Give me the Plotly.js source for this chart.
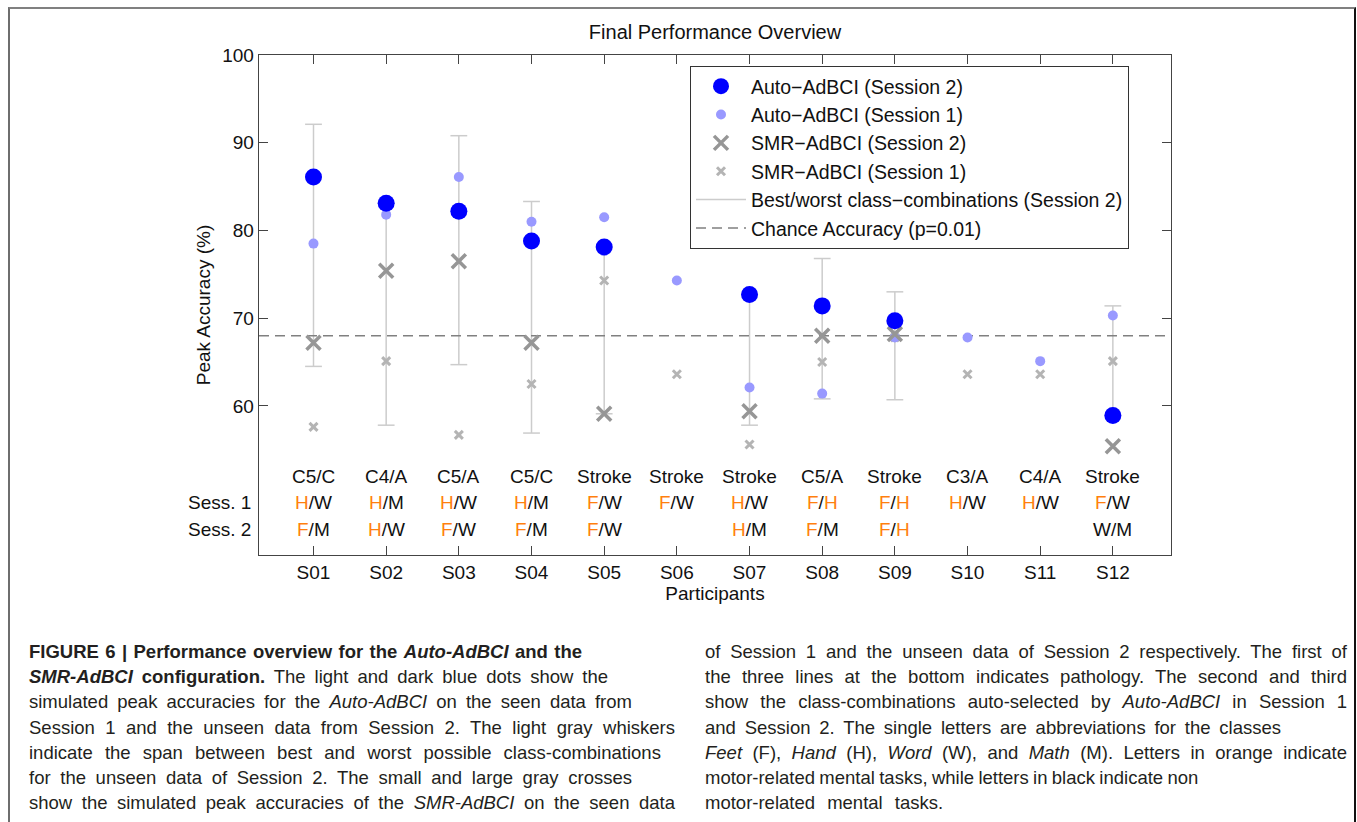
<!DOCTYPE html>
<html>
<head>
<meta charset="utf-8">
<script src="https://cdn.plot.ly/plotly-3.0.1.min.js"></script>
<style>
  html, body { margin: 0; padding: 0; background: #fff; }
  #wrap { position: relative; width: 1357px; height: 822px; overflow: hidden; }
  #chart { position: absolute; left: 0; top: 0; width: 1357px; height: 822px; }
  #frame { position: absolute; left: 8px; top: 7px; width: 1344px; height: 900px;
           border-left: 2px solid #6e6e6e; border-top: 2px solid #808080; border-right: 2px solid #111;
           pointer-events: none; }
  .cap { position: absolute; font-family: "Liberation Sans", Arial, Helvetica, sans-serif;
         font-size: 18.5px; line-height: 25.2px; color: #231f20; }
  .cap span.ln { display: block; white-space: nowrap; }
</style>
</head>
<body>
<div id="wrap">
  <div id="chart"></div>
  <div id="frame"></div>
  <div class="cap" id="capL" style="left:29px; top:639px;">
    <span class="ln" data-w="553"><b>FIGURE 6 | Performance overview for the <i>Auto-AdBCI</i> and the</b></span>
    <span class="ln" data-w="579"><b><i>SMR-AdBCI</i> configuration.</b> The light and dark blue dots show the</span>
    <span class="ln" data-w="603">simulated peak accuracies for the <i>Auto-AdBCI</i> on the seen data from</span>
    <span class="ln" data-w="646">Session 1 and the unseen data from Session 2. The light gray whiskers</span>
    <span class="ln" data-w="641">indicate the span between best and worst possible class-combinations</span>
    <span class="ln" data-w="603">for the unseen data of Session 2. The small and large gray crosses</span>
    <span class="ln" data-w="646">show the simulated peak accuracies of the <i>SMR-AdBCI</i> on the seen data</span>
  </div>
  <div class="cap" id="capR" style="left:705px; top:639px;">
    <span class="ln" data-w="642">of Session 1 and the unseen data of Session 2 respectively. The first of</span>
    <span class="ln" data-w="642">the three lines at the bottom indicates pathology. The second and third</span>
    <span class="ln" data-w="643">show the class-combinations auto-selected by <i>Auto-AdBCI</i> in Session 1</span>
    <span class="ln" data-w="576">and Session 2. The single letters are abbreviations for the classes</span>
    <span class="ln" data-w="642"><i>Feet</i> (F), <i>Hand</i> (H), <i>Word</i> (W), and <i>Math</i> (M). Letters in orange indicate</span>
    <span class="ln" data-w="492">motor-related mental tasks, while letters in black indicate non</span>
    <span class="ln" data-w="240">motor-related mental tasks.</span>
  </div>
</div>
<script>
// ---------- data ----------
const participants = ['S01','S02','S03','S04','S05','S06','S07','S08','S09','S10','S11','S12'];
const pathology = ['C5/C','C4/A','C5/A','C5/C','Stroke','Stroke','Stroke','C5/A','Stroke','C3/A','C4/A','Stroke'];
const classesSess1 = ['H/W','H/M','H/W','H/M','F/W','F/W','H/W','F/H','F/H','H/W','H/W','F/W'];
const classesSess2 = ['F/M','H/W','F/W','F/M','F/W','','H/M','F/M','F/H','','','W/M'];

const autoSess2 = [86.1, 83.1, 82.2, 78.8, 78.1, null, 72.7, 71.4, 69.7, null, null, 58.9];
const autoSess1 = [78.5, 81.8, 86.1, 81.0, 81.5, 74.3, 62.1, 61.4, 67.8, 67.8, 65.1, 70.3];
const smrSess2  = [67.2, 75.4, 76.5, 67.2, 59.1, null, 59.4, 68.0, 68.2, null, null, 55.4];
const smrSess1  = [57.6, 65.1, 56.7, 62.5, 74.3, 63.6, 55.6, 65.0, 67.8, 63.6, 63.6, 65.1];
const bestComb  = [92.1, 83.1, 90.8, 83.3, 78.1, null, 72.7, 76.8, 73.0, null, null, 71.4];
const worstComb = [64.5, 57.8, 64.7, 56.9, 59.1, null, 57.8, 60.8, 60.7, null, null, 58.9];
const chanceAccuracy = 68.0;
const yTicks = [60, 70, 80, 90, 100];

// ---------- build ----------
const xs = participants.map((_, i) => i + 1);
const xRange = [0.25, 12.8];
const FONT = '"Liberation Sans", Arial, Helvetica, sans-serif';
const ORANGE = '#ff7f0e';

const wx = [], wy = [], cx = [], cy = [];
xs.forEach((x, i) => {
  if (bestComb[i] == null) return;
  wx.push(x, x, null); wy.push(worstComb[i], bestComb[i], null);
  cx.push(x, x); cy.push(worstComb[i], bestComb[i]);
});

const traces = [
  { x: wx, y: wy, mode: 'lines', name: 'Best/worst class\u2212combinations (Session 2)',
    line: { color: '#cccccc', width: 1.5 }, legendrank: 5, hoverinfo: 'skip' },
  { x: cx, y: cy, mode: 'markers', showlegend: false, hoverinfo: 'skip',
    marker: { symbol: 'line-ew', size: 12, color: '#cccccc', line: { color: '#cccccc', width: 1.5 } } },
  { x: xRange, y: [chanceAccuracy, chanceAccuracy], mode: 'lines', name: 'Chance Accuracy (p=0.01)',
    line: { color: '#808080', width: 1.5, dash: '10px,6px' }, legendrank: 6 },
  { x: xs, y: smrSess1, mode: 'markers', name: 'SMR\u2212AdBCI (Session 1)', legendrank: 4,
    marker: { symbol: 'x-thin', size: 8, color: '#b4b4b4', line: { color: '#b4b4b4', width: 3 } } },
  { x: xs, y: autoSess1, mode: 'markers', name: 'Auto\u2212AdBCI (Session 1)', legendrank: 2,
    marker: { symbol: 'circle', size: 10, color: '#9999ff' } },
  { x: xs, y: smrSess2, mode: 'markers', name: 'SMR\u2212AdBCI (Session 2)', legendrank: 3,
    marker: { symbol: 'x-thin', size: 14, color: '#969696', line: { color: '#969696', width: 3.5 } } },
  { x: xs, y: autoSess2, mode: 'markers', name: 'Auto\u2212AdBCI (Session 2)', legendrank: 1,
    marker: { symbol: 'circle', size: 17, color: '#0000ff' } }
];

function colorize(s) {
  return s.replace(/[FH]/g, m => '<span style="color:' + ORANGE + '">' + m + '</span>');
}

const annotations = [];
const rowY = [52.0, 48.95, 45.95];
xs.forEach((x, i) => {
  [pathology[i], colorize(classesSess1[i]), colorize(classesSess2[i])].forEach((t, r) => {
    if (!t) return;
    annotations.push({ x: x, y: rowY[r], xref: 'x', yref: 'y', text: t, showarrow: false,
      font: { family: FONT, size: 19, color: '#111' }, xanchor: 'center', yanchor: 'middle' });
  });
});
['Sess. 1', 'Sess. 2'].forEach((t, r) => {
  annotations.push({ x: 0, y: rowY[r + 1], xref: 'paper', yref: 'y', text: t, showarrow: false,
    xanchor: 'right', yanchor: 'middle', xshift: -6, font: { family: FONT, size: 19, color: '#111' } });
});

const layout = {
  width: 1357, height: 822,
  margin: { l: 259, r: 186, t: 55, b: 267 },
  paper_bgcolor: '#fff', plot_bgcolor: '#fff',
  font: { family: FONT, size: 19, color: '#111' },
  title: { text: 'Final Performance Overview', x: 715 / 1357, xanchor: 'center', y: 1 - 32 / 822, yanchor: 'middle',
           font: { family: FONT, size: 20, color: '#111' } },
  showlegend: true,
  legend: { x: (690 - 259) / 912, y: (555 - 66) / 500, xanchor: 'left', yanchor: 'top',
            bgcolor: '#fff', bordercolor: '#333', borderwidth: 1, itemwidth: 50,
            font: { family: FONT, size: 19.5, color: '#111' } },
  xaxis: { range: xRange, tickvals: xs, ticktext: participants, ticks: 'inside', ticklen: 9,
           tickcolor: '#444', showline: true, linecolor: '#444', linewidth: 1.3, mirror: 'ticks',
           showgrid: false, zeroline: false, automargin: false,
           tickfont: { family: FONT, size: 19, color: '#111' },
           title: { text: 'Participants', standoff: 2, font: { family: FONT, size: 19, color: '#111' } } },
  yaxis: { range: [43, 100], tickvals: yTicks, ticks: 'inside', ticklen: 9,
           tickcolor: '#444', showline: true, linecolor: '#444', linewidth: 1.3, mirror: 'ticks',
           showgrid: false, zeroline: false, automargin: false,
           tickfont: { family: FONT, size: 19, color: '#111' },
           title: { text: 'Peak Accuracy (%)', standoff: 6, font: { family: FONT, size: 19, color: '#111' } } },
  annotations: annotations
};

Plotly.newPlot('chart', traces, layout, { staticPlot: true, displayModeBar: false });

// justify caption lines toward their reference widths (word spacing only)
document.querySelectorAll('.cap span.ln').forEach(el => {
  const W = +el.dataset.w;
  el.style.display = 'inline-block';
  const w = el.getBoundingClientRect().width;
  const n = (el.textContent.match(/ /g) || []).length;
  let ws = n ? (W - w) / n : 0;
  ws = Math.max(-0.8, Math.min(7, ws));
  el.style.wordSpacing = ws + 'px';
  el.style.display = 'block';
});
</script>
</body>
</html>
